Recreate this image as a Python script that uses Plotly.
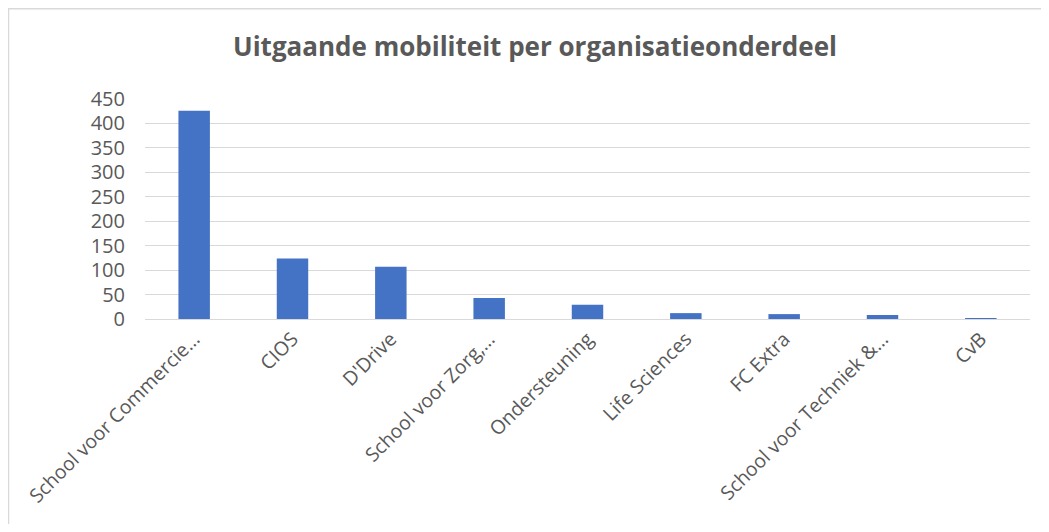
import plotly.graph_objects as go

categories = ["School voor Commercie…", "CIOS", "D'Drive", "School voor Zorg,…",
              "Ondersteuning", "Life Sciences", "FC Extra", "School voor Techniek &…", "CvB"]
values = [426, 124, 107, 43, 29, 12, 10, 8, 2]
y_ticks = [0, 50, 100, 150, 200, 250, 300, 350, 400, 450]

# page has an 8px body margin; figure coordinates = page coordinates - 8
OFF = 8
W, H = 1049 - 2 * OFF, 532 - 2 * OFF
L, T = 145 - OFF, 99 - OFF
R = W - (1030 - OFF)
B = H - (319 - OFF)
pw, ph = W - L - R, H - T - B

def px_x(p):
    return (p - OFF - L) / pw

def px_y(p):
    return (H - B - (p - OFF)) / ph

fig = go.Figure(go.Bar(x=categories, y=values, marker=dict(color="#4472C4", line=dict(width=0))))

fig.update_layout(
    width=W, height=H,
    margin=dict(l=L, r=R, t=T, b=B, autoexpand=False),
    paper_bgcolor="white", plot_bgcolor="white",
    bargap=0.68,
    showlegend=False,
    title=dict(text="<b>Uitgaande mobiliteit per organisatieonderdeel</b>",
               x=(535 - OFF) / W, xref="container", xanchor="center",
               y=1 - (47 - OFF) / H, yref="container", yanchor="middle",
               font=dict(family="Open Sans", size=26, color="#595959")),
    font=dict(family="Open Sans", color="#595959"),
    xaxis=dict(tickangle=-45, tickfont=dict(size=19.5, color="#595959"),
               showline=True, linecolor="#d9d9d9", linewidth=1, ticks="",
               showgrid=False),
    yaxis=dict(range=[0, 450], tickvals=y_ticks, tickfont=dict(size=20, color="#595959"),
               showgrid=True, gridcolor="#d9d9d9", gridwidth=1, zeroline=False,
               showline=False, ticks="", ticklabelstandoff=19),
    shapes=[dict(type="rect", xref="paper", yref="paper",
                 x0=px_x(8.5), x1=px_x(1080), y0=px_y(580), y1=px_y(8.75),
                 line=dict(color="#d9d9d9", width=1.5), fillcolor="rgba(0,0,0,0)", layer="below")],
)

fig.write_html("out.html")
